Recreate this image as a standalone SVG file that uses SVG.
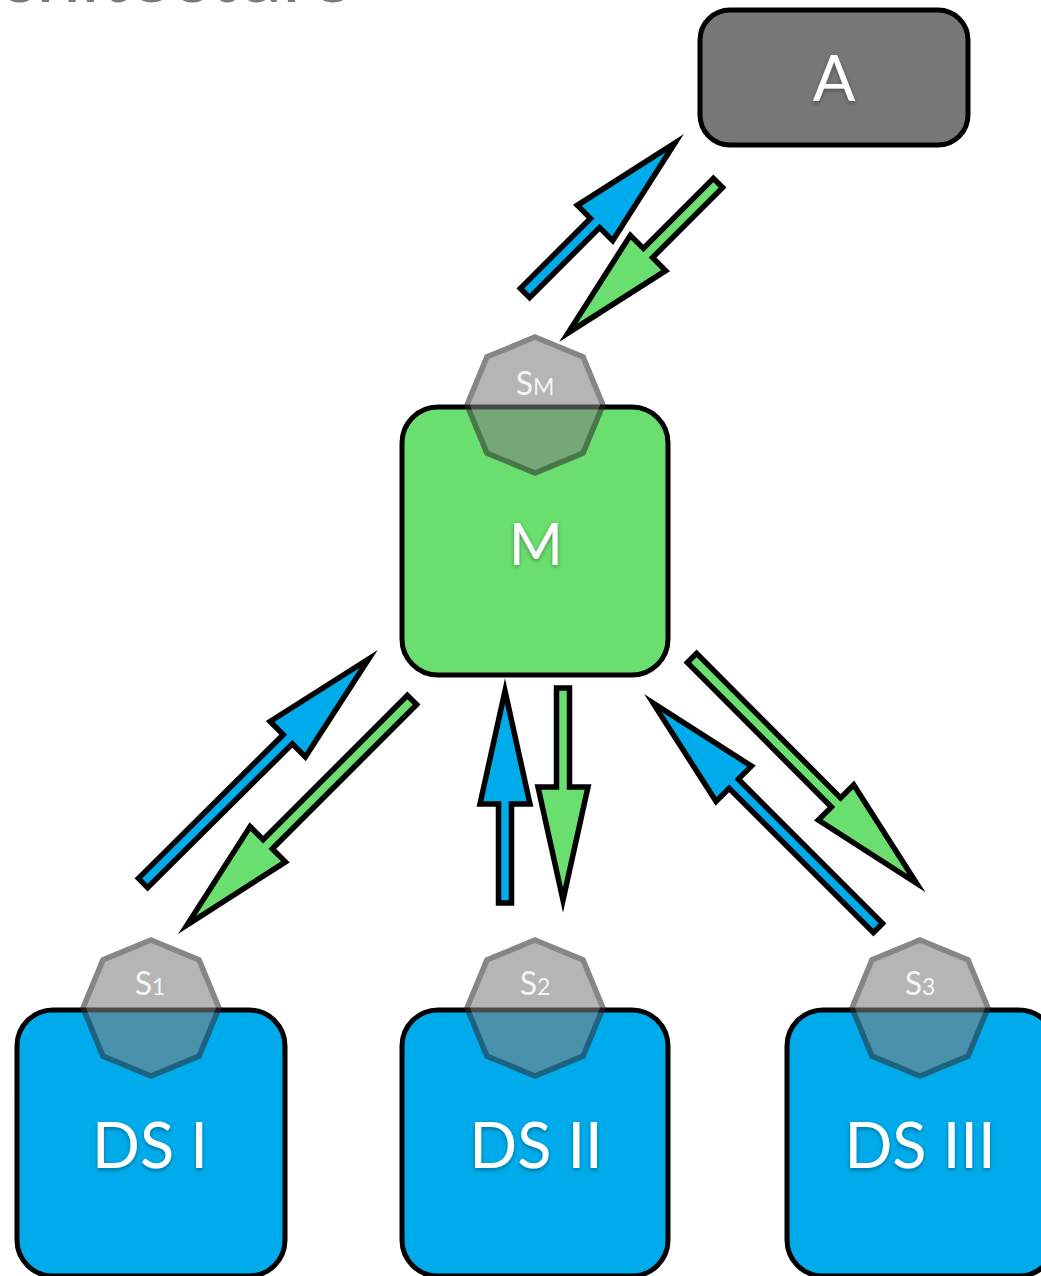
<svg xmlns="http://www.w3.org/2000/svg" xmlns:xlink="http://www.w3.org/1999/xlink" width="1041" height="1276" viewBox="0 0 1041 1276">
<style>
.box{stroke:#000;stroke-width:5}
.gray{fill:#777777}
.green{fill:#6ade6f}
.blue{fill:#00abeb}
.lbl{font-family:Lato,"Open Sans","Liberation Sans",sans-serif;fill:#ffffff;text-anchor:middle}
.big{font-size:63px}
.slbl{font-family:Lato,"Open Sans","Liberation Sans",sans-serif;fill:#ffffff;fill-opacity:0.9;text-anchor:middle;font-size:32px}
.arrow{stroke:#000;stroke-width:5.5;stroke-linejoin:miter;stroke-miterlimit:10}
.title{font-family:Lato,"Open Sans","Liberation Sans",sans-serif;fill:#7a7a7a;font-size:80px}
</style>
<defs>
<filter id="sh" x="-20%" y="-20%" width="140%" height="140%">
<feDropShadow dx="0" dy="2" stdDeviation="2" flood-color="#000" flood-opacity="0.35"/>
</filter>
<polygon id="oct" points="0,-68 48.08,-48.08 68,0 48.08,48.08 0,68 -48.08,48.08 -68,0 -48.08,-48.08"/>
<path id="arS" d="M0,-6.5 H99 V-25 L212,0 L99,25 V6.5 H0 Z"/>
<path id="arL" d="M0,-6.5 H204 V-25 L318,0 L204,25 V6.5 H0 Z"/>
</defs>

<text class="title" x="352" y="2" text-anchor="end">Architecture</text>

<g id="connectors">
<use xlink:href="#arS" class="arrow blue" transform="translate(525,293) rotate(-45)"/>
<use xlink:href="#arS" class="arrow green" transform="translate(718,183) rotate(135)"/>
<use xlink:href="#arL" class="arrow blue" transform="translate(143,883) rotate(-44.8)"/>
<use xlink:href="#arL" class="arrow green" transform="translate(412,700) rotate(135)"/>
<use xlink:href="#arS" class="arrow blue" transform="translate(505,903) rotate(-90)"/>
<use xlink:href="#arS" class="arrow green" transform="translate(563,688) rotate(90)"/>
<use xlink:href="#arL" class="arrow green" transform="translate(692,658) rotate(45.1)"/>
<use xlink:href="#arL" class="arrow blue" transform="translate(878,928) rotate(-135)"/>
</g>

<g id="A">
<rect class="box gray" x="700" y="10" width="268" height="135" rx="30"/>
<text class="lbl" x="834" y="101" font-size="63" filter="url(#sh)">A</text>
</g>

<g id="M">
<rect class="box green" x="402" y="407" width="266" height="268" rx="36"/>
<text class="lbl" x="536" y="565" font-size="58" filter="url(#sh)">M</text>
</g>

<g id="SM">
<g opacity="0.58"><use xlink:href="#oct" fill="#808080" stroke="#303030" stroke-width="5.5" transform="translate(535,405)"/></g>
<text class="slbl" x="535" y="395">S<tspan font-size="23">M</tspan></text>
</g>

<g id="DS1">
<rect class="box blue" x="17" y="1010" width="268" height="266" rx="36"/>
<text class="lbl big" x="150" y="1168" filter="url(#sh)">DS I</text>
</g>

<g id="DS2">
<rect class="box blue" x="402" y="1010" width="266" height="266" rx="36"/>
<text class="lbl big" x="536" y="1168" filter="url(#sh)">DS II</text>
</g>

<g id="DS3">
<rect class="box blue" x="787" y="1010" width="268" height="266" rx="36"/>
<text class="lbl big" x="920" y="1168" filter="url(#sh)">DS III</text>
</g>

<g id="S1">
<g opacity="0.58"><use xlink:href="#oct" fill="#808080" stroke="#303030" stroke-width="5.5" transform="translate(151,1008)"/></g>
<text class="slbl" x="150" y="995">S<tspan font-size="23">1</tspan></text>
</g>

<g id="S2">
<g opacity="0.58"><use xlink:href="#oct" fill="#808080" stroke="#303030" stroke-width="5.5" transform="translate(535,1008)"/></g>
<text class="slbl" x="535" y="995">S<tspan font-size="23">2</tspan></text>
</g>

<g id="S3">
<g opacity="0.58"><use xlink:href="#oct" fill="#808080" stroke="#303030" stroke-width="5.5" transform="translate(920,1008)"/></g>
<text class="slbl" x="920" y="995">S<tspan font-size="23">3</tspan></text>
</g>
</svg>
